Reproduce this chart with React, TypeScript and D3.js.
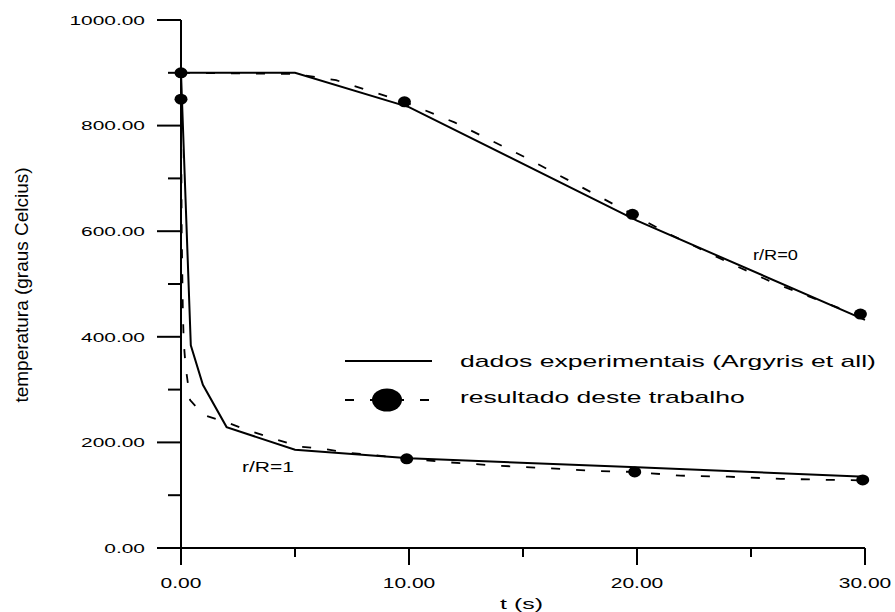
import React from "react";
import * as d3 from "d3";

// temperature (°C) against time t (s), two radial positions
const expOuter: [number, number][] = [
  [0, 900], [0.43, 384], [0.96, 309], [2, 229], [5, 186], [10, 170], [20, 153], [30, 135],
];
const expCenter: [number, number][] = [
  [0, 900], [5, 900], [10, 835], [20, 620], [30, 432],
];
const modelOuter: [number, number][] = [
  [0, 850], [0.03, 600], [0.08, 450], [0.12, 390], [0.2, 345], [0.4, 280], [1, 252],
  [2, 238], [3, 222], [4, 208], [5.2, 192], [6.2, 188], [7.4, 180], [9.9, 170],
  [11.5, 163], [13.9, 156], [16.1, 151], [18.2, 146], [19.9, 144], [21.9, 137],
  [24, 135], [26.3, 131], [28.5, 129], [30, 128],
];
const modelCenter: [number, number][] = [
  [0, 900], [5, 898], [6.8, 886], [9.8, 845], [12, 806], [15, 742], [17.5, 685],
  [19.8, 632], [21.3, 597], [24.1, 539], [26, 502], [29, 452], [29.8, 443], [30, 440],
];
const markers: [number, number][] = [
  [0, 900], [9.8, 845], [19.8, 632], [29.8, 443],
  [0, 850], [9.9, 169], [19.9, 144], [29.9, 129],
];
const xMajor = [0, 10, 20, 30];
const xMinor = [5, 15, 25];
const yMajor = [0, 200, 400, 600, 800, 1000];
const yMinor = [100, 300, 500, 700, 900];
const legendLabels = ["dados experimentais (Argyris et all)", "resultado deste trabalho"];

const FONT = "'Liberation Sans', Arial, sans-serif";

function Stretch({ x, y, sx, size, anchor, children }: any) {
  return (
    <text
      transform={`translate(${x},${y}) scale(${sx},1)`}
      fontSize={size}
      fontFamily={FONT}
      textAnchor={anchor}
      fill="#000"
    >
      {children}
    </text>
  );
}

export default function App() {
  const x = d3.scaleLinear().domain([0, 30]).range([181, 865]);
  const y = d3.scaleLinear().domain([0, 1000]).range([548, 20]);
  const line = d3
    .line<[number, number]>()
    .x((d) => x(d[0]))
    .y((d) => y(d[1]));
  const dash = "9,16";

  return (
    <svg
      width={895}
      height={612}
      style={{ position: "absolute", left: 0, top: 0, background: "#fff" }}
    >
      {/* axes */}
      <g stroke="#000" strokeWidth={2} fill="none">
        <line x1={x(0)} x2={x(0)} y1={y(0)} y2={y(1000)} />
        <line x1={x(0)} x2={x(30)} y1={y(0)} y2={y(0)} />
        {yMajor.map((v) => (
          <line key={"ym" + v} x1={x(0) - 24} x2={x(0)} y1={y(v)} y2={y(v)} />
        ))}
        {yMinor.map((v) => (
          <line key={"yn" + v} x1={x(0) - 13} x2={x(0)} y1={y(v)} y2={y(v)} />
        ))}
        {xMajor.map((v) => (
          <line key={"xm" + v} x1={x(v)} x2={x(v)} y1={y(0)} y2={y(0) + 17} />
        ))}
        {xMinor.map((v) => (
          <line key={"xn" + v} x1={x(v)} x2={x(v)} y1={y(0)} y2={y(0) + 9} />
        ))}
      </g>
      {yMajor.map((v) => (
        <Stretch key={"yl" + v} x={145} y={y(v) + 4.8} sx={1.55} size={13.5} anchor="end">
          {v.toFixed(2)}
        </Stretch>
      ))}
      {xMajor.map((v) => (
        <Stretch key={"xl" + v} x={x(v)} y={588} sx={1.5} size={14} anchor="middle">
          {v.toFixed(2)}
        </Stretch>
      ))}
      <Stretch x={521.5} y={609} sx={1.66} size={15} anchor="middle">
        t (s)
      </Stretch>
      <text
        transform={`translate(28,285) rotate(-90)`}
        fontSize={18}
        fontFamily={FONT}
        textAnchor="middle"
        textLength={235}
        lengthAdjust="spacingAndGlyphs"
      >
        temperatura (graus Celcius)
      </text>

      {/* curves */}
      <g fill="none" stroke="#000">
        <path d={line(modelOuter) || ""} strokeWidth={1.8} strokeDasharray={dash} />
        <path d={line(modelCenter) || ""} strokeWidth={1.8} strokeDasharray={dash} />
        <path d={line(expOuter) || ""} strokeWidth={2} />
        <path d={line(expCenter) || ""} strokeWidth={2} />
      </g>
      {markers.map((d, i) => (
        <ellipse key={"m" + i} cx={x(d[0])} cy={y(d[1])} rx={6.5} ry={5.5} fill="#000" />
      ))}

      <text x={753} y={260} fontSize={15} fontFamily={FONT} textLength={45} lengthAdjust="spacingAndGlyphs">
        r/R=0
      </text>
      <text x={242} y={472} fontSize={15} fontFamily={FONT} textLength={52} lengthAdjust="spacingAndGlyphs">
        r/R=1
      </text>

      {/* legend */}
      <line x1={345} x2={432} y1={361} y2={361} stroke="#000" strokeWidth={2} />
      <line x1={345} x2={432} y1={400} y2={400} stroke="#000" strokeWidth={2} strokeDasharray={dash} />
      <ellipse cx={387} cy={400} rx={15} ry={11.5} fill="#000" />
      <Stretch x={460} y={367} sx={1.66} size={16} anchor="start">
        {legendLabels[0]}
      </Stretch>
      <Stretch x={460} y={403} sx={1.66} size={16} anchor="start">
        {legendLabels[1]}
      </Stretch>
    </svg>
  );
}
